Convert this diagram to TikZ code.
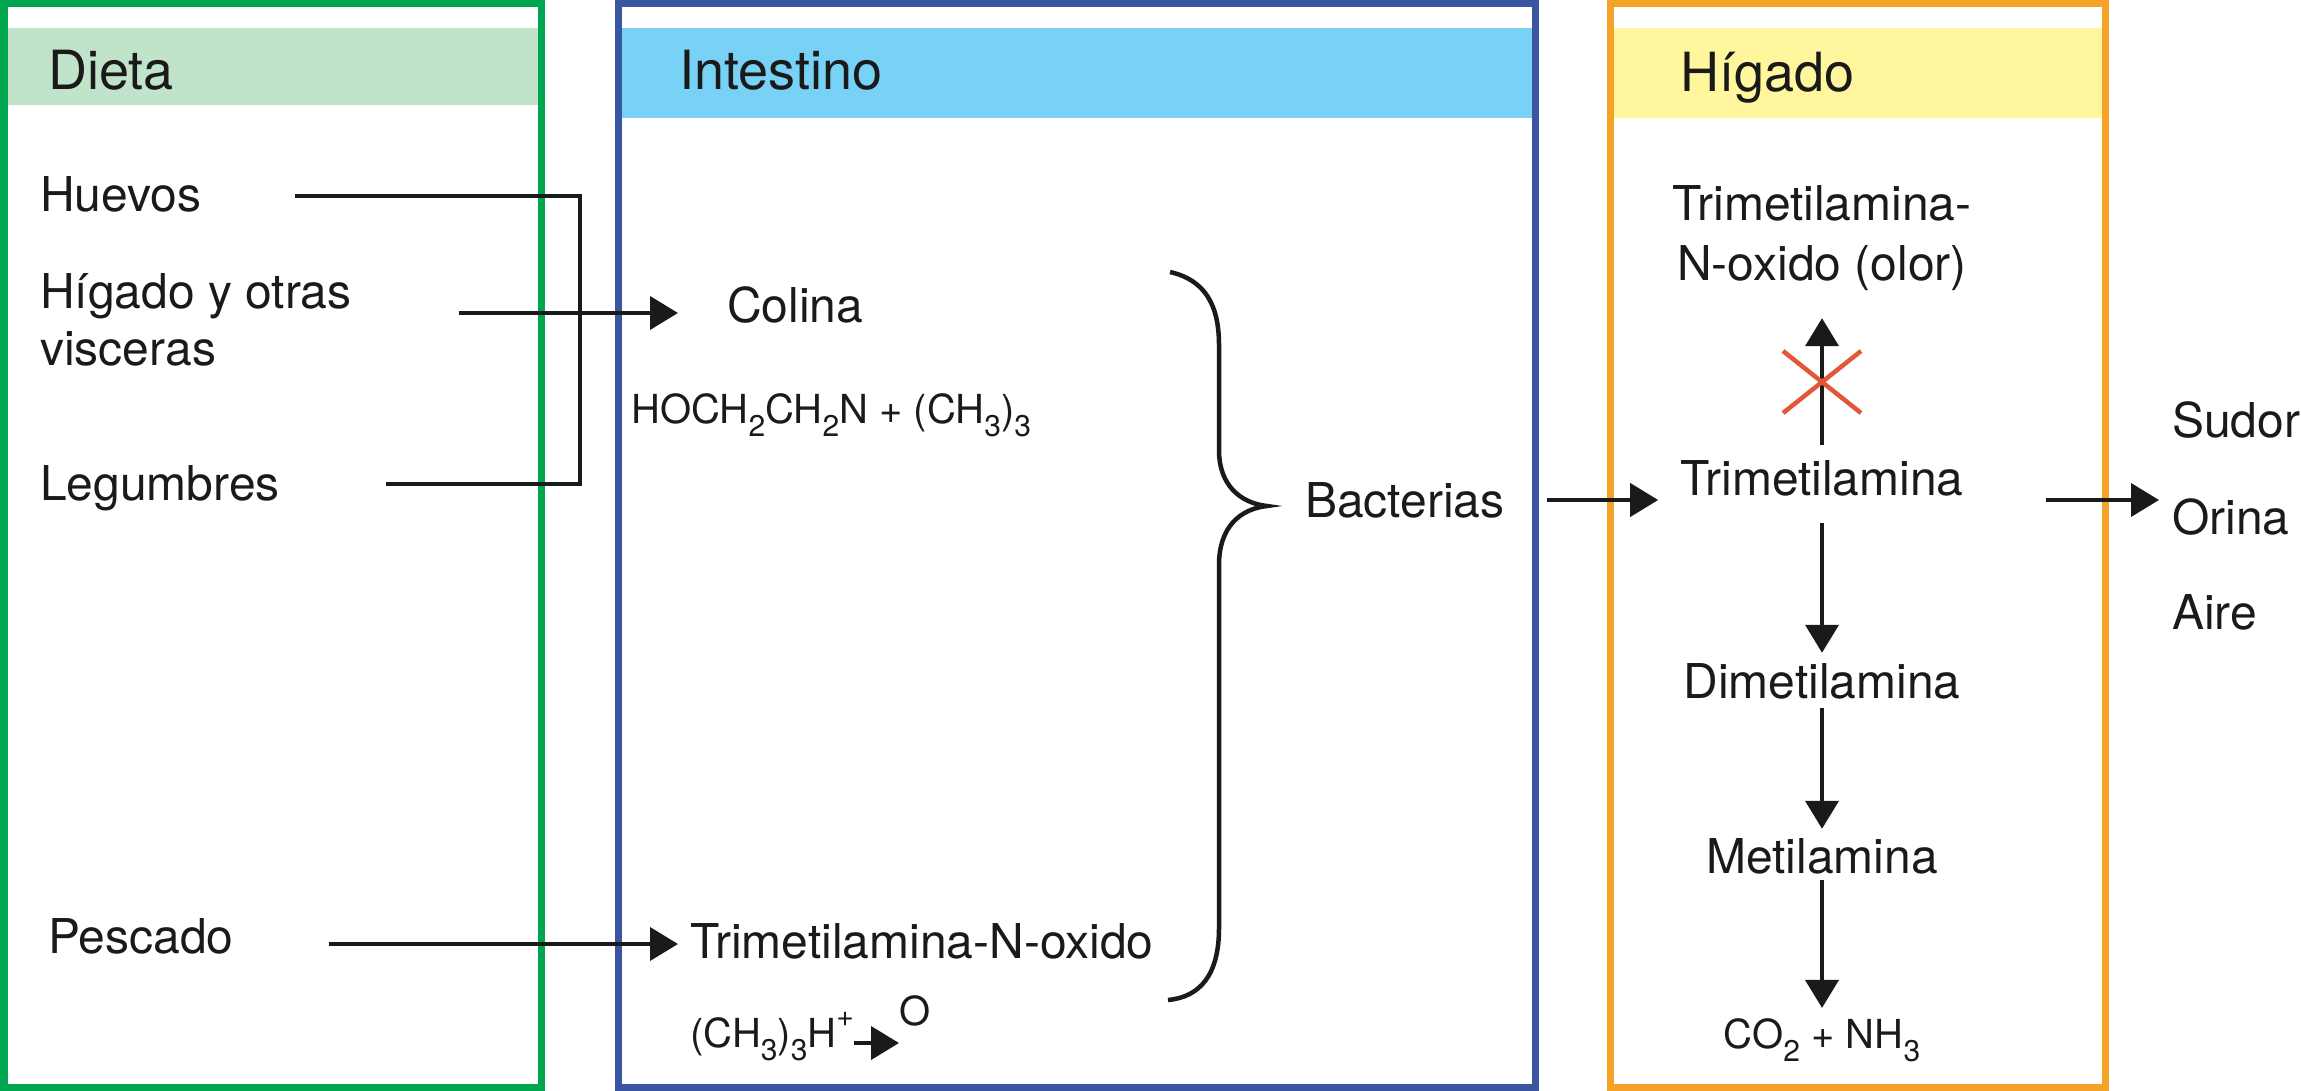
\documentclass[tikz,border=0pt]{standalone}
\usepackage{fontspec}
\setmainfont{TeX Gyre Heros}
\usetikzlibrary{arrows.meta}
\definecolor{gborder}{HTML}{00A550}
\definecolor{ghead}{HTML}{C0E3CA}
\definecolor{bborder}{HTML}{3A56A1}
\definecolor{bhead}{HTML}{77D2F5}
\definecolor{oborder}{HTML}{F5A229}
\definecolor{ohead}{HTML}{FFF69D}
\definecolor{xred}{HTML}{E2563A}
\definecolor{txt}{HTML}{1A1A1A}
\newcommand\sbs[1]{\raisebox{-13pt}{\fontsize{30}{30}\selectfont #1}}
\newcommand\sps[1]{\raisebox{21pt}{\fontsize{30}{30}\selectfont #1}}
\tikzset{
  frame/.style={line width=7pt},
  hdr/.style={font=\fontsize{54}{64}\selectfont, inner sep=0pt, text=txt, anchor=base west},
  body/.style={font=\fontsize{48}{58}\selectfont, inner sep=0pt, text=txt, anchor=base west},
  chem/.style={font=\fontsize{40}{48}\selectfont, inner sep=0pt, text=txt, anchor=base west},
  conn/.style={line width=4pt, draw=txt},
  arr/.style={line width=4pt, draw=txt, -{Triangle[length=28pt,width=33pt]}},
  bracepath/.style={line width=4.5pt, draw=txt},
  xmark/.style={line width=4.5pt, draw=xred}
}
\begin{document}
\begin{tikzpicture}[x=1pt,y=1pt]
\useasboundingbox (0,0) rectangle (2301,-1091);
% header bars
\fill[ghead] (7.5,-28) rectangle (537.5,-105);
\fill[bhead] (622,-28) rectangle (1531.5,-118);
\fill[ohead] (1613.5,-28) rectangle (2102,-118);
% frames
\draw[frame, draw=gborder] (4,-3.5) rectangle (541.5,-1087.5);
\draw[frame, draw=bborder] (618.5,-3.5) rectangle (1535,-1087.5);
\draw[frame, draw=oborder] (1610,-3.5) rectangle (2105.5,-1087.5);
% headers
\node[hdr] (dieta) at (48,-90) {Dieta};
\node[hdr] (intest) at (679,-90) {Intestino};
\node[hdr] (higadoH) at (1680,-92) {Hígado};
% diet
\node[body] (huevos) at (40,-212) {Huevos};
\node[body, anchor=north west, align=left, font=\fontsize{48}{57}\selectfont] (visc) at (40,-273.5) {Hígado y otras\\visceras};
\node[body] (legum) at (40,-500) {Legumbres};
\node[body] (pescado) at (48,-953) {Pescado};
% intestine
\node[body] (colina) at (727,-322) {Colina};
\node[chem] (form1) at (631,-423) {HOCH\sbs{2}CH\sbs{2}N + (CH\sbs{3})\sbs{3}};
\node[body] (tmao1) at (690,-958) {Trimetilamina-N-oxido};
\node[chem] (tmf) at (690,-1047) {(CH\sbs{3})\sbs{3}H\sps{+}};
\node[chem] (oxy) at (899,-1025) {O};
\node[body] (bact) at (1305,-517) {Bacterias};
% liver
\node[body, anchor=north, align=center, font=\fontsize{48}{60}\selectfont] (tmao2) at (1822,-185.6) {Trimetilamina-\\N-oxido (olor)};
\node[body, anchor=base] (tma) at (1822,-495) {Trimetilamina};
\node[body, anchor=base] (dma) at (1822,-698) {Dimetilamina};
\node[body, anchor=base] (mma) at (1822,-873) {Metilamina};
\node[chem, anchor=base] (co2) at (1822,-1048) {CO\sbs{2} + NH\sbs{3}};
% excretion
\node[body] (sudor) at (2172,-437) {Sudor};
\node[body] (orina) at (2172,-534) {Orina};
\node[body] (aire) at (2172,-629) {Aire};
% connectors: diet to intestine
\coordinate (hvA) at (295,-196);
\coordinate (lgA) at (386,-484);
\coordinate (jn) at (580,-340);
\draw[conn] (hvA) -- (hvA -| jn) -- (lgA -| jn) -- (lgA);
\coordinate (higA) at (459,-313);
\draw[arr] (higA) -- ([xshift=-49pt]colina.west |- higA);
\coordinate (pescA) at (329,-944);
\draw[arr] (pescA) -- ([xshift=-12pt]tmao1.west |- pescA);
\draw[arr] ([yshift=4pt]tmf.base east) -- ([yshift=4pt]tmf.base east -| oxy.west);
% brace
\draw[bracepath] (1170,-272) .. controls (1205,-280) and (1219,-305) .. (1219,-345)
  -- (1219,-450) .. controls (1219,-485) and (1240,-503) .. (1267,-506)
  .. controls (1240,-509) and (1219,-527) .. (1219,-565)
  -- (1219,-928) .. controls (1219,-975) and (1200,-997) .. (1168,-1000);
% bacteria to liver
\coordinate (lvl) at (1547,-500);
\draw[arr] (lvl) -- ([xshift=-22pt]tma.west |- lvl);
\draw[arr] ([xshift=82pt]tma.east |- lvl) -- ([xshift=-13pt]orina.west |- lvl);
% liver chain
\draw[arr] ([yshift=15pt]tma.north) -- ([yshift=-27pt]tmao2.south);
\coordinate (xc) at (1822,-382);
\draw[xmark] ([shift={(-39pt,-31pt)}]xc) -- ([shift={(39pt,31pt)}]xc);
\draw[xmark] ([shift={(-39pt,31pt)}]xc) -- ([shift={(39pt,-31pt)}]xc);
\draw[arr] ([yshift=-28pt]tma.base) -- ([yshift=10pt]dma.north);
\draw[arr] ([yshift=-10pt]dma.base) -- ([yshift=9pt]mma.north);
\draw[arr] ([yshift=-7pt]mma.base) -- ([yshift=10pt]co2.north);
\end{tikzpicture}
\end{document}
